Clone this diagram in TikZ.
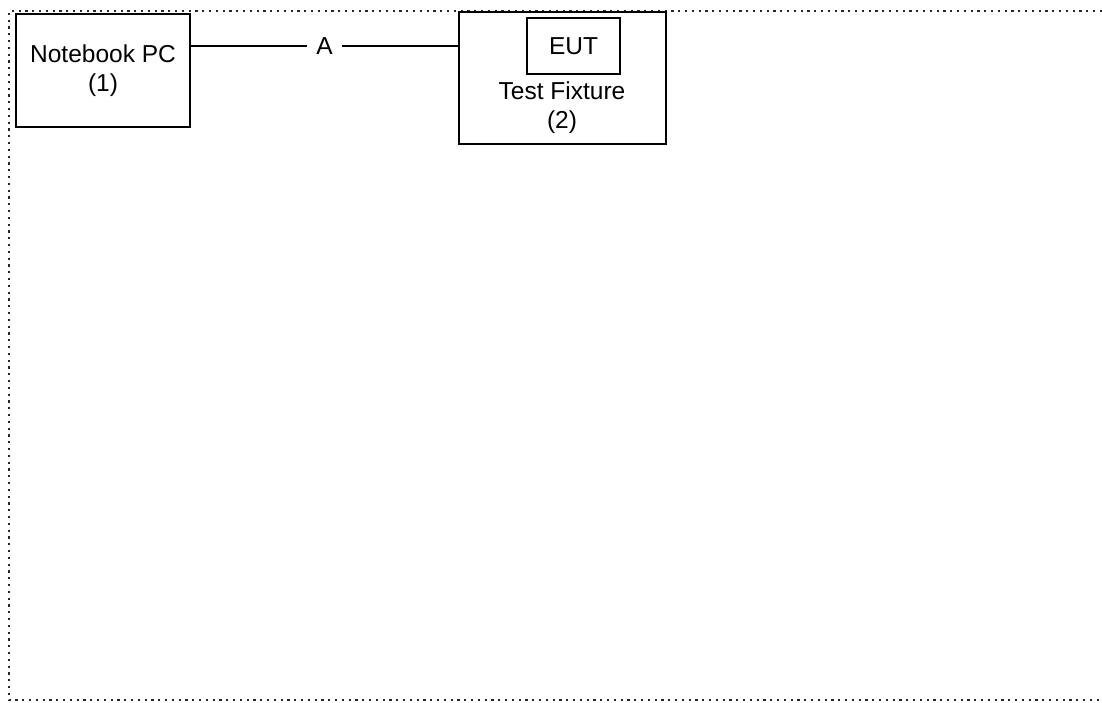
\documentclass[tikz,border=0pt]{standalone}
\usepackage{fontspec}
\setmainfont{Liberation Sans}
\usetikzlibrary{positioning}
\tikzset{
  tf/box/.style={
    draw=black,
    line width=2.4pt,
    fill=white,
    align=center,
    inner sep=0pt,
    font=\fontsize{24.5}{29}\selectfont
  },
  tf/text/.style={align=center, inner sep=0pt, font=\fontsize{24.5}{29}\selectfont},
  tf/line/.style={line width=2pt, draw=black},
  tf/label/.style={fill=white, inner xsep=9pt, inner ysep=2pt, font=\fontsize{24.5}{29}\selectfont},
  tf/frame/.style={line width=2.2pt, draw=black!85, dash pattern=on 2.2pt off 4.6pt}
}
\begin{document}
\begin{tikzpicture}[x=1pt,y=-1pt]
  \useasboundingbox (0,0) rectangle (1102,702);
  % dotted outline
  \draw[tf/frame] (1102,11) -- (9,11) -- (9,700) -- (1102,700);
  \node[tf/box,minimum width=174pt,minimum height=113pt] (notebook) at (103,70.5) {Notebook PC\\(1)};
  \node[tf/box,minimum width=207pt,minimum height=132pt] (fixture) at (562.5,78) {};
  \node[tf/box,minimum width=93pt,minimum height=56pt] (eut) at (573.5,46) {EUT};
  \node[tf/text] (fixturetext) at (562,108) {Test Fixture\\(2)};
  \draw[tf/line] (notebook.east |- eut) -- node[tf/label] (cableA) {A} (fixture.west |- eut);
\end{tikzpicture}
\end{document}
